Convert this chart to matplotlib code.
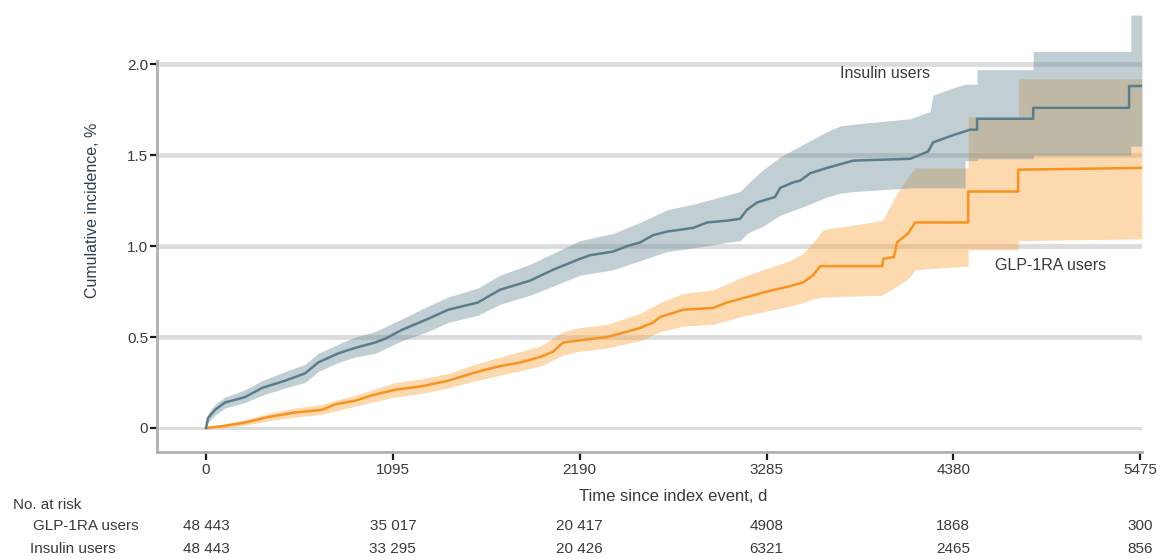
import matplotlib
matplotlib.use("Agg")
import matplotlib.pyplot as plt

plt.rcParams['font.family'] = ['Liberation Sans', 'DejaVu Sans']

# ---------------- data ----------------
# Insulin users: cumulative incidence (%) curve, corner points (repeated time = step)
ins_t = [0, 12, 53, 111, 229, 328, 463, 580, 657, 774, 873, 991, 1049, 1149, 1301, 1419,
         1594, 1723, 1899, 2034, 2192, 2251, 2386, 2468, 2544, 2620, 2702, 2855, 2937,
         3054, 3130, 3171, 3230, 3265, 3335, 3365, 3441, 3482, 3540, 3640, 3716, 3793,
         4127, 4232, 4261, 4379, 4478, 4519, 4519, 4848, 4848, 5410, 5410, 5485]
ins_v = [0, 0.055, 0.10, 0.14, 0.17, 0.22, 0.26, 0.30, 0.36, 0.41, 0.44, 0.47, 0.49, 0.54,
         0.60, 0.65, 0.69, 0.76, 0.81, 0.87, 0.93, 0.95, 0.97, 1.00, 1.02, 1.06, 1.08, 1.10,
         1.13, 1.14, 1.15, 1.20, 1.24, 1.25, 1.27, 1.32, 1.35, 1.36, 1.40, 1.43, 1.45, 1.47,
         1.48, 1.52, 1.57, 1.61, 1.64, 1.64, 1.70, 1.70, 1.76, 1.76, 1.88, 1.88]
# Insulin users: 95% CI
ins_ci_t = [0, 12, 53, 111, 229, 328, 463, 580, 657, 774, 873, 991, 1149, 1301, 1419, 1594,
            1723, 1899, 2034, 2192, 2386, 2544, 2702, 2855, 3054, 3130, 3171, 3265, 3365,
            3482, 3640, 3716, 3793, 4127, 4244, 4261, 4379, 4449, 4449, 4519, 4519, 4848,
            4848, 5420, 5420, 5485]
ins_lo = [0, 0.03, 0.07, 0.11, 0.14, 0.18, 0.22, 0.25, 0.31, 0.36, 0.39, 0.41, 0.48, 0.53,
          0.58, 0.62, 0.68, 0.73, 0.78, 0.84, 0.87, 0.92, 0.97, 0.99, 1.02, 1.03, 1.07, 1.11,
          1.17, 1.21, 1.27, 1.29, 1.30, 1.32, 1.32, 1.32, 1.32, 1.32, 1.47, 1.47, 1.48, 1.48,
          1.50, 1.50, 1.55, 1.55]
ins_hi = [0, 0.08, 0.13, 0.17, 0.21, 0.26, 0.31, 0.35, 0.41, 0.46, 0.50, 0.53, 0.60, 0.67,
          0.72, 0.77, 0.84, 0.90, 0.96, 1.03, 1.07, 1.13, 1.20, 1.23, 1.28, 1.30, 1.34, 1.42,
          1.49, 1.55, 1.63, 1.66, 1.67, 1.70, 1.74, 1.83, 1.87, 1.89, 1.89, 1.89, 1.97, 1.97,
          2.07, 2.07, 2.27, 2.27]

# GLP-1RA users: curve
glp_t = [0, 94, 229, 363, 522, 680, 756, 873, 973, 1108, 1266, 1419, 1559, 1635, 1723, 1841,
         1958, 2034, 2093, 2175, 2351, 2468, 2544, 2620, 2661, 2796, 2972, 3054, 3171, 3288,
         3423, 3499, 3558, 3600, 3963, 3970, 4032, 4050, 4115, 4156, 4467, 4467, 4760, 4760,
         5485]
glp_v = [0, 0.01, 0.03, 0.06, 0.085, 0.10, 0.13, 0.15, 0.18, 0.21, 0.23, 0.26, 0.30, 0.32,
         0.34, 0.36, 0.39, 0.42, 0.47, 0.48, 0.50, 0.53, 0.55, 0.58, 0.61, 0.65, 0.66, 0.69,
         0.72, 0.75, 0.78, 0.80, 0.84, 0.89, 0.89, 0.93, 0.94, 1.02, 1.07, 1.13, 1.13, 1.30,
         1.30, 1.42, 1.43]
# GLP-1RA users: 95% CI
glp_ci_t = [0, 94, 229, 363, 522, 680, 873, 1108, 1266, 1419, 1559, 1723, 1958, 2093, 2175,
            2351, 2544, 2661, 2796, 2972, 3171, 3423, 3499, 3558, 3617, 3963, 4050, 4115,
            4156, 4467, 4467, 4760, 4760, 5485]
glp_lo = [0, 0.0, 0.015, 0.04, 0.06, 0.075, 0.12, 0.17, 0.19, 0.22, 0.255, 0.29, 0.34, 0.40,
          0.42, 0.44, 0.48, 0.53, 0.56, 0.57, 0.62, 0.67, 0.69, 0.71, 0.72, 0.73, 0.78, 0.82,
          0.87, 0.89, 0.98, 0.98, 1.03, 1.04]
glp_hi = [0, 0.02, 0.045, 0.08, 0.11, 0.13, 0.18, 0.25, 0.27, 0.30, 0.345, 0.39, 0.45, 0.53,
          0.55, 0.57, 0.63, 0.69, 0.74, 0.76, 0.84, 0.92, 0.96, 1.02, 1.09, 1.14, 1.29, 1.38,
          1.43, 1.43, 1.71, 1.71, 1.92, 1.92]

x_ticks = [0, 1095, 2190, 3285, 4380, 5475]
y_ticks = [0, 0.5, 1.0, 1.5, 2.0]
y_tick_labels = ['0', '0.5', '1.0', '1.5', '2.0']
risk_glp = ['48 443', '35 017', '20 417', '4908', '1868', '300']
risk_ins = ['48 443', '33 295', '20 426', '6321', '2465', '856']

# ---------------- styling ----------------
C_INS = '#5a7d8c'
C_INS_BAND = '#668998'
C_GLP = '#f7931e'
C_GLP_BAND = '#f9a039'
TXT = '#3a3a3a'

fig = plt.figure(figsize=(11.65, 5.59), dpi=100)
ax = fig.add_axes([0.1348, 0.1914, 0.8455, 0.7816])

ax.set_xlim(-287, 5486)
ax.set_ylim(-0.132, 2.27)

for y in y_ticks:
    ax.axhline(y, color='#dcdcdc', lw=3.4 if y > 0 else 2.2, zorder=0)

ax.fill_between(glp_ci_t, glp_lo, glp_hi, color=C_GLP_BAND, alpha=0.4, lw=0, zorder=1)
ax.fill_between(ins_ci_t, ins_lo, ins_hi, color=C_INS_BAND, alpha=0.4, lw=0, zorder=2)
ax.plot(glp_t, glp_v, color=C_GLP, lw=1.8, zorder=3)
ax.plot(ins_t, ins_v, color=C_INS, lw=1.8, zorder=4)

# spines
for s in ['top', 'right']:
    ax.spines[s].set_visible(False)
ax.spines['left'].set_color('#b0b0b0')
ax.spines['left'].set_linewidth(2)
ax.spines['left'].set_bounds(-0.132, 2.02)
ax.spines['bottom'].set_color('#b0b0b0')
ax.spines['bottom'].set_linewidth(2)

ax.set_xticks(x_ticks)
ax.set_xticklabels([str(v) for v in x_ticks])
ax.set_yticks(y_ticks)
ax.set_yticklabels(y_tick_labels)
ax.tick_params(axis='x', direction='out', length=6, width=1.6, color='#1a1a1a',
               labelsize=11, labelcolor=TXT, pad=2)
ax.tick_params(axis='y', direction='out', length=5, width=1.6, color='#1a1a1a',
               labelsize=11, labelcolor=TXT, pad=1.5)

ax.set_ylabel('Cumulative incidence, %', fontsize=11.5, color='#2c3e50')
ax.yaxis.set_label_coords(-0.058, 0.554)

ax.text(2737, -0.375, 'Time since index event, d', ha='center', va='center',
        fontsize=12, color=TXT)

ax.text(3716, 1.95, 'Insulin users', ha='left', va='center', fontsize=11.5, color=TXT)
ax.text(4625, 0.895, 'GLP-1RA users', ha='left', va='center', fontsize=11.5, color=TXT)

# risk table
trans = ax.get_xaxis_transform()
fig.text(13 / 1165, 1 - 505 / 559, 'No. at risk', ha='left', va='center',
         fontsize=11, color=TXT)
fig.text(33 / 1165, 1 - 526 / 559, 'GLP-1RA users', ha='left', va='center',
         fontsize=11, color=TXT)
fig.text(30 / 1165, 1 - 549 / 559, 'Insulin users', ha='left', va='center',
         fontsize=11, color=TXT)
y_r1 = (559 - 526 - 107) / 437
y_r2 = (559 - 549 - 107) / 437
for xt, a, b in zip(x_ticks, risk_glp, risk_ins):
    ax.text(xt, y_r1, a, transform=trans, ha='center', va='center', fontsize=11,
            color=TXT, clip_on=False)
    ax.text(xt, y_r2, b, transform=trans, ha='center', va='center', fontsize=11,
            color=TXT, clip_on=False)

fig.savefig('out.png', dpi=100)
